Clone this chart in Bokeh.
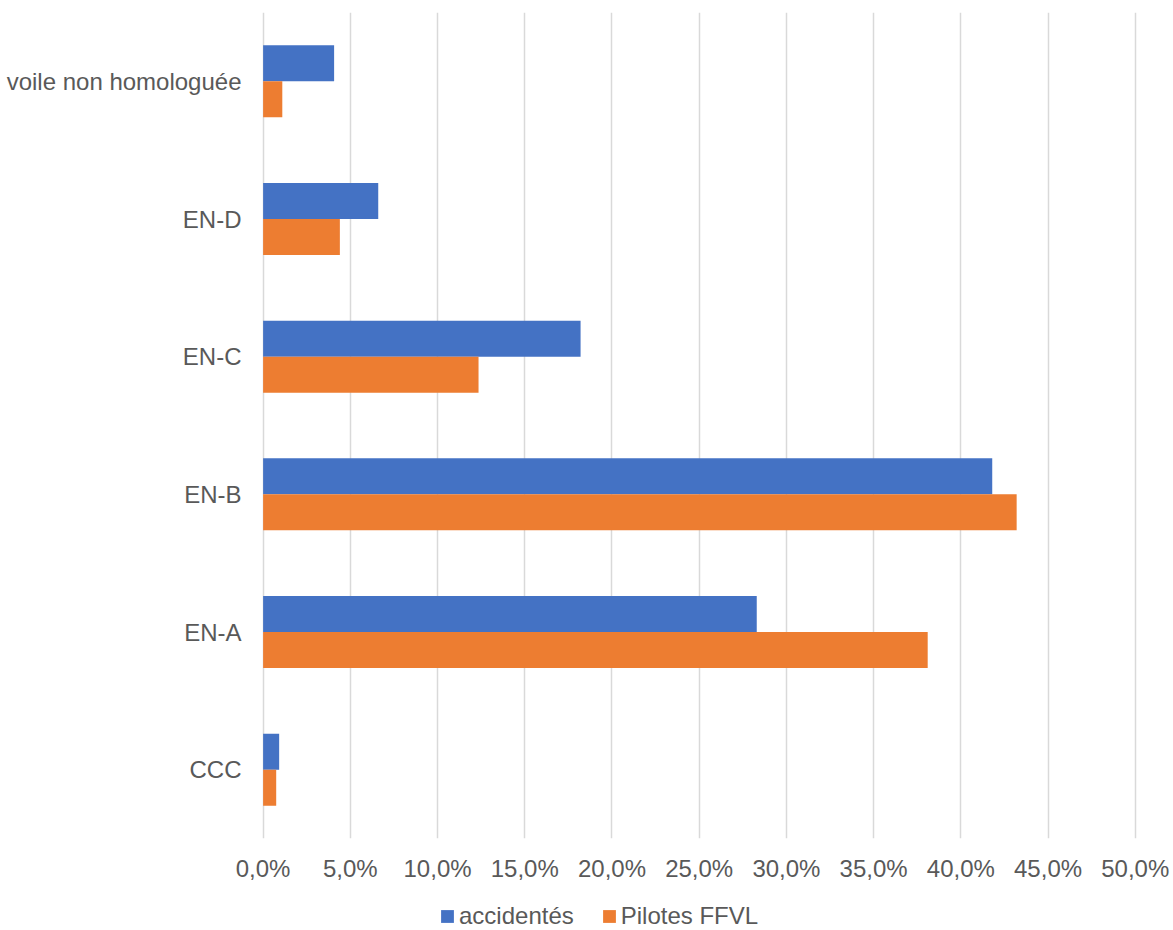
from bokeh.plotting import figure
from bokeh.layouts import column
from bokeh.models import (FactorRange, Range1d, FixedTicker, CustomJSTickFormatter,
                          Legend, LegendItem, ColumnDataSource)
from bokeh.transform import dodge
from bokeh.embed import file_html
from bokeh.resources import INLINE

categories = ["CCC", "EN-A", "EN-B", "EN-C", "EN-D", "voile non homologuée"]
accidentes = [0.92, 28.3, 41.8, 18.2, 6.6, 4.07]
pilotes = [0.75, 38.1, 43.2, 12.35, 4.4, 1.1]
x_ticks = [0, 5, 10, 15, 20, 25, 30, 35, 40, 45, 50]
series_names = ["accidentés", "Pilotes FFVL"]

BLUE = "#4472C4"
ORANGE = "#ED7D31"
TXT = "#595959"
FONT = "Liberation Sans"
FS = "24px"

src = ColumnDataSource(dict(cat=categories, acc=accidentes, pil=pilotes))

p = figure(width=1173, height=886, output_backend="svg", toolbar_location=None,
           y_range=FactorRange(factors=categories, range_padding=0),
           x_range=Range1d(-0.15, 50.3),
           min_border_left=260, min_border_right=33, min_border_top=12, min_border_bottom=48)
p.outline_line_color = None
p.background_fill_color = "white"

r1 = p.hbar(y=dodge("cat", 0.1307, range=p.y_range), right="acc", left=0, height=0.2614,
            source=src, fill_color=BLUE, line_color=None)
r2 = p.hbar(y=dodge("cat", -0.1307, range=p.y_range), right="pil", left=0, height=0.2614,
            source=src, fill_color=ORANGE, line_color=None)

p.xaxis.ticker = FixedTicker(ticks=x_ticks)
p.xaxis.formatter = CustomJSTickFormatter(code="return tick.toFixed(1).replace('.', ',') + '%';")
for ax in (p.xaxis[0], p.yaxis[0]):
    ax.axis_line_color = None
    ax.major_tick_line_color = None
    ax.minor_tick_line_color = None
    ax.major_tick_out = 0
    ax.major_tick_in = 0
    ax.major_label_text_font = FONT
    ax.major_label_text_font_size = FS
    ax.major_label_text_color = TXT
p.xaxis.major_label_standoff = 16
p.yaxis.major_label_standoff = 19

p.xgrid.grid_line_color = "#D9D9D9"
p.xgrid.grid_line_width = 1.5
p.ygrid.grid_line_color = None

# legend strip below the chart (its keys are legend-only renderers, placed outside the view)
lg = figure(width=1173, height=44, output_backend="svg", toolbar_location=None,
            x_range=Range1d(0, 1), y_range=Range1d(0, 1),
            x_axis_location=None, y_axis_location=None, min_border=0)
lg.outline_line_color = None
lg.grid.visible = False
k1 = lg.hbar(y=[-10], left=[0], right=[1], height=1, fill_color=BLUE, line_color=None)
k2 = lg.hbar(y=[-10], left=[0], right=[1], height=1, fill_color=ORANGE, line_color=None)

legend = Legend(items=[LegendItem(label=series_names[0], renderers=[k1]),
                       LegendItem(label=series_names[1], renderers=[k2])],
                location=(179, 0), orientation="horizontal",
                padding=0, margin=0, spacing=27, label_standoff=4,
                glyph_width=16, glyph_height=16,
                border_line_color=None, background_fill_alpha=0,
                label_text_font=FONT, label_text_font_size=FS, label_text_color=TXT)
lg.add_layout(legend)

layout = column(p, lg, spacing=0)
open("out.html", "w").write(file_html(layout, INLINE))
